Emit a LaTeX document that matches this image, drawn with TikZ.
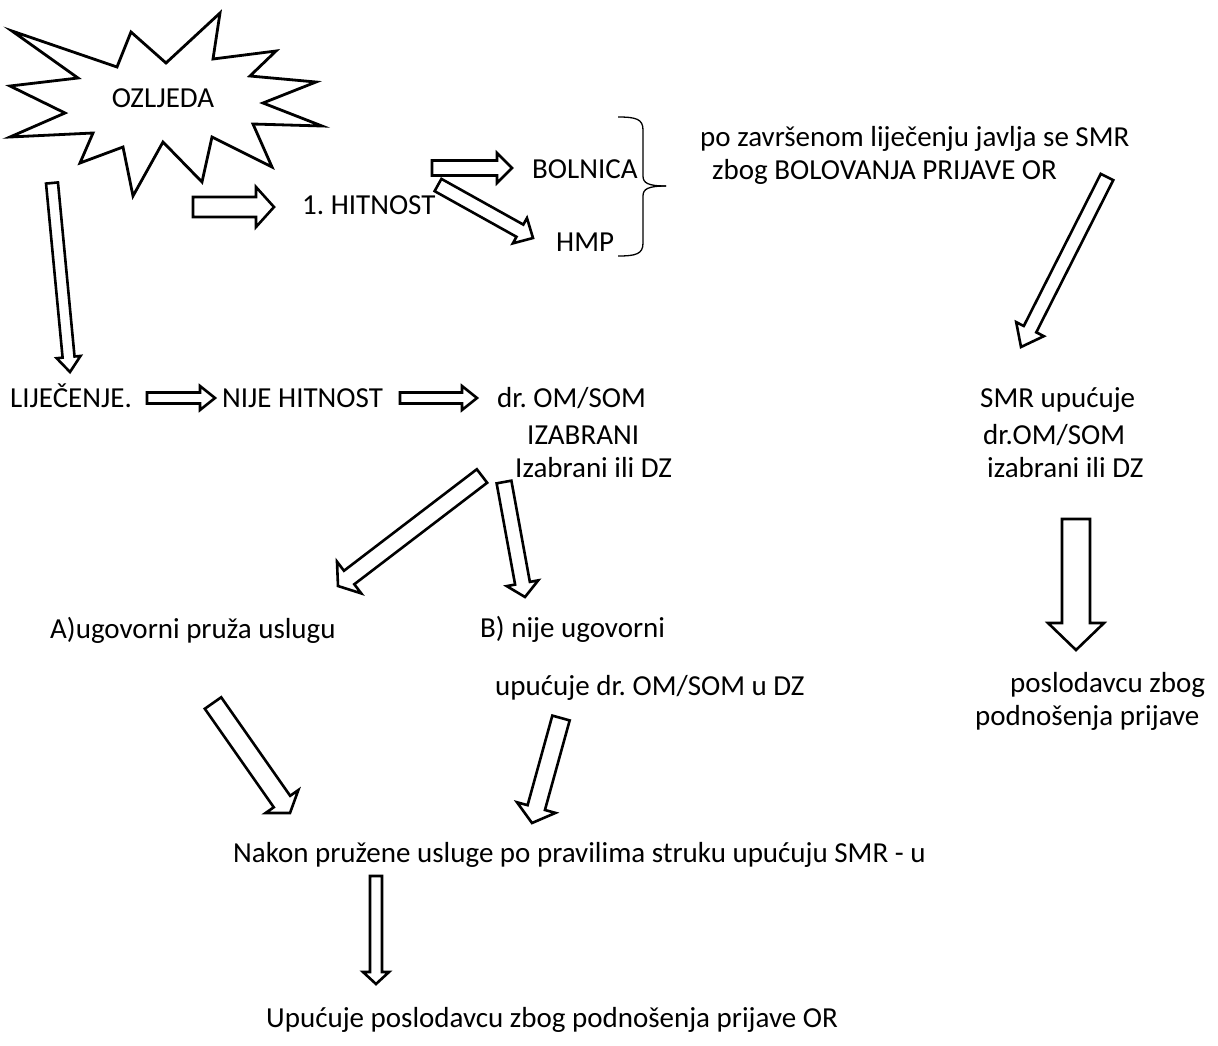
\documentclass[tikz,border=0pt]{standalone}
\usepackage{fontspec}
\setmainfont{Carlito}
\usetikzlibrary{calc,positioning}

\tikzset{
  txt/.style={inner sep=0pt, anchor=base west, font=\fontsize{29}{35}\selectfont},
  hollow/.style={draw, line width=2.6pt, line join=miter, fill=white},
}
% tail, tip, shaft half width, head half width, head length
\newcommand{\hollowarrow}[5]{%
  \coordinate (hb) at ($(#2)!#5pt!(#1)$);
  \draw[hollow] ($(#1)!#3pt!90:(#2)$) -- ($(hb)!#3pt!-90:(#1)$) -- ($(hb)!#4pt!-90:(#1)$) -- (#2)
    -- ($(hb)!#4pt!90:(#1)$) -- ($(hb)!#3pt!90:(#1)$) -- ($(#1)!#3pt!-90:(#2)$) -- cycle;
}

\begin{document}
\frenchspacing
\begin{tikzpicture}[x=1pt,y=-1pt]
  \useasboundingbox (0,0) rectangle (1218,1045);

  % star
  \draw[line width=2.8pt, line join=miter] (12,31) -- (117,67) -- (131,32) -- (166,63) -- (220,13) -- (213,59)
    -- (276,51) -- (250,76) -- (316,82) -- (263,103) -- (322,126) -- (253,124) -- (272,167)
    -- (212,137) -- (202,182) -- (163,142) -- (133,196) -- (123,147) -- (80,163) -- (93,133)
    -- (10,137) -- (65,113) -- (10,86) -- (78,78) -- cycle;
  \node[txt, anchor=base] (ozljeda) at (163,107) {OZLJEDA};

  \node[txt] (hitnost) at (302,214) {1. HITNOST};
  \node[txt] (bolnica) at (532,178) {BOLNICA};
  \node[txt] (hmp) at (556,251) {HMP};
  \node[txt] (zavrseno) at (700,146) {po završenom liječenju javlja se SMR};
  \node[txt] (zbog) at (712,179) {zbog BOLOVANJA PRIJAVE OR};

  % brace
  \draw[line width=1.3pt] (618,117) .. controls (636,117) and (643,119) .. (643,130) -- (643,176)
    .. controls (643,183) and (648,186) .. (666,186);
  \draw[line width=1.3pt] (618,256) .. controls (636,256) and (643,254) .. (643,243) -- (643,196)
    .. controls (643,189) and (648,186) .. (666,186);

  \node[txt] (lijecenje) at (10,407) {LIJEČENJE.};
  \node[txt] (nije) at (222,407) {NIJE HITNOST};
  \node[txt] (dr) at (497,407) {dr. OM/SOM};
  \node[txt] (izabrani) at (527,444) {IZABRANI};
  \node[txt] (izdz) at (515,477) {Izabrani ili DZ};

  \node[txt] (smr) at (980,407) {SMR upućuje};
  \node[txt] (smrdr) at (983,444) {dr.OM/SOM};
  \node[txt] (smriz) at (987,477) {izabrani ili DZ};

  \node[txt] (ugovorni) at (50,638) {A)ugovorni pruža uslugu};
  \node[txt] (nijeug) at (480,637) {B) nije ugovorni};
  \node[txt] (upucuje) at (495,695) {upućuje dr. OM/SOM u DZ};

  \node[txt] (poslodavcu) at (1010,692) {poslodavcu zbog};
  \node[txt] (podnosenja) at (975,725) {podnošenja prijave};

  \node[txt] (nakon) at (233,862) {Nakon pružene usluge po pravilima struku upućuju SMR - u};
  \node[txt] (kraj) at (266,1027) {Upućuje poslodavcu zbog podnošenja prijave OR};

  % arrow ends
  \coordinate (oz-t) at (52,183);   \coordinate (oz-h) at (70,372);
  \coordinate (hi-t) at (193,207);  \coordinate (hi-h) at (274,207);
  \coordinate (bo-t) at (432,168);  \coordinate (bo-h) at (512,168);
  \coordinate (hm-t) at (438,185);  \coordinate (hm-h) at (533,238);
  \coordinate (sm-t) at (1107,177); \coordinate (sm-h) at (1021,347);
  \coordinate (li-t) at (147,398);  \coordinate (li-h) at (215,398);
  \coordinate (ni-t) at (400,398);  \coordinate (ni-h) at (477,398);
  \coordinate (ua-t) at (482,476);  \coordinate (ua-h) at (338,586);
  \coordinate (ub-t) at (504,482);  \coordinate (ub-h) at (525,597);
  \coordinate (po-t) at (1076,519); \coordinate (po-h) at (1076,650);
  \coordinate (na-t) at (213,703);  \coordinate (na-h) at (290,813);
  \coordinate (nb-t) at (561,718);  \coordinate (nb-h) at (532,823);
  \coordinate (kr-t) at (376,876);  \coordinate (kr-h) at (376,984);

  \hollowarrow{oz-t}{oz-h}{6}{12}{15}
  \hollowarrow{hi-t}{hi-h}{10}{20}{18}
  \hollowarrow{bo-t}{bo-h}{7.5}{15}{15}
  \hollowarrow{hm-t}{hm-h}{7}{14.5}{15}
  \hollowarrow{sm-t}{sm-h}{7}{15.5}{20}
  \hollowarrow{li-t}{li-h}{5.5}{12}{15}
  \hollowarrow{ni-t}{ni-h}{5.5}{12}{15}
  \hollowarrow{ua-t}{ua-h}{8.5}{20}{14}
  \hollowarrow{ub-t}{ub-h}{7.5}{16}{14}
  \hollowarrow{po-t}{po-h}{14}{28}{27}
  \hollowarrow{na-t}{na-h}{10}{20}{14}
  \hollowarrow{nb-t}{nb-h}{9}{20}{16}
  \hollowarrow{kr-t}{kr-h}{6}{13}{12}
\end{tikzpicture}
\end{document}
